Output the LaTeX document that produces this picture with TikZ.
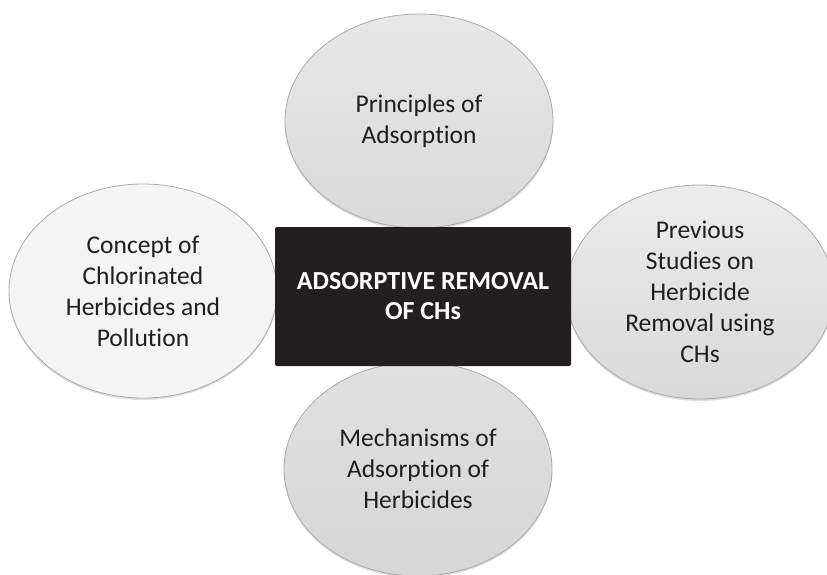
\documentclass[tikz,border=0pt]{standalone}
\usepackage{fontspec}
\setmainfont{Carlito}[Ligatures=NoCommon]
\usetikzlibrary{shapes.geometric,shadows}
\definecolor{boxblack}{HTML}{231F20}
\definecolor{rimgray}{HTML}{A9A9A9}
\definecolor{inkgray}{HTML}{1F1F1F}
\tikzset{
  topic/.style={ellipse, draw=rimgray, line width=0.8pt,
    minimum width=268pt, minimum height=214pt, inner sep=0pt,
    align=center, text=inkgray, font=\fontsize{25.5}{31}\selectfont,
    drop shadow={shadow xshift=0pt, shadow yshift=-2pt, opacity=0.25}},
  core/.style={rectangle, fill=boxblack, rounded corners=2pt,
    minimum width=296pt, minimum height=139pt, inner sep=0pt,
    text=white, align=center, font=\bfseries\fontsize{26}{30}\selectfont}
}
\begin{document}
\begin{tikzpicture}[x=1pt,y=-1pt]
\useasboundingbox (0,0) rectangle (827,575);
% four topic ellipses around the central box
\node[topic, top color=gray!18, bottom color=gray!30] (prin) at (419,121)
  {Principles of\\Adsorption};
\node[topic, top color=gray!8, bottom color=gray!9] (conc) at (143,291)
  {Concept of\\Chlorinated\\Herbicides and\\Pollution};
\node[topic, top color=gray!15, bottom color=gray!30] (prev) at (700,292)
  {Previous\\Studies on\\Herbicide\\Removal using\\CHs};
\node[topic, top color=gray!24, bottom color=gray!32] (mech) at (418,469)
  {Mechanisms of\\Adsorption of\\Herbicides};
% central box, drawn last so it covers the ellipse edges
\node[core] (main) at (423,296.5) {ADSORPTIVE REMOVAL\\OF CHs};
\end{tikzpicture}
\end{document}
